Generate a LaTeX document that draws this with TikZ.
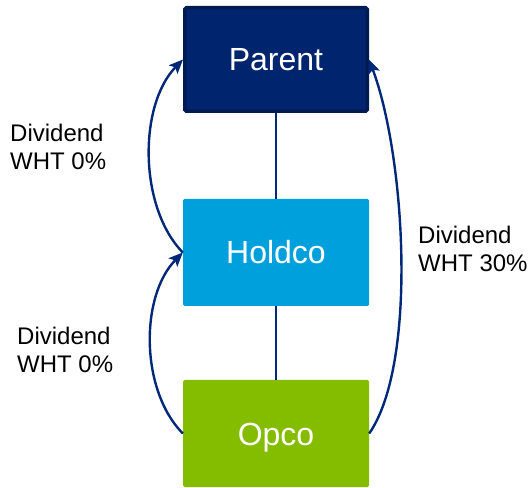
\documentclass[tikz,border=0pt]{standalone}
\usepackage{fontspec}
\setmainfont{Liberation Sans}
\usetikzlibrary{arrows.meta}
\definecolor{navyfill}{HTML}{00246E}
\definecolor{navyedge}{HTML}{001B52}
\definecolor{linkblue}{HTML}{002878}
\definecolor{holdblue}{HTML}{00A0DC}
\definecolor{opgreen}{HTML}{84BC00}
\tikzset{
  entity/.style={rectangle, rounded corners=1.5pt, inner sep=0pt,
    minimum width=186pt, minimum height=107pt, text=white,
    font=\fontsize{32pt}{36pt}\selectfont, text height=23pt, text depth=0pt},
  owner/.style={draw=linkblue, line width=1.4pt},
  flow/.style={draw=linkblue, line width=2.4pt,
    -{Stealth[length=14pt,width=12pt,inset=3pt]}},
  rate/.style={inner sep=0pt, anchor=base west, align=left,
    font=\fontsize{24pt}{28.5pt}\selectfont}
}
\begin{document}
\begin{tikzpicture}[x=1pt,y=1pt]
  \useasboundingbox (0,0) rectangle (532,487);

  % company boxes
  \node[entity, fill=navyfill, draw=navyedge, line width=3.5pt,
        minimum width=182.5pt, minimum height=103.5pt] (parent) at (276,427.5) {Parent};
  \node[entity, fill=holdblue] (holdco) at (276,234.5) {Holdco};
  \node[entity, fill=opgreen] (opco) at (276,53.5) {Opco};

  % ownership chain
  \draw[owner] (parent.south) -- (holdco.north);
  \draw[owner] (holdco.south) -- (opco.north);

  % dividend flows
  \draw[flow] (holdco.west) .. controls (138.5,280) and (138.5,382) .. (parent.west);
  \draw[flow] (opco.west) .. controls (140,97) and (140,191) .. (holdco.west);
  \draw[flow] (opco.east) .. controls (418,124) and (405,332) .. (parent.east);

  % withholding tax labels (anchored on the baseline of the second line)
  \node[rate] (whtA) at (10,317) {Dividend\\WHT 0\%};
  \node[rate] (whtB) at (17,114) {Dividend\\WHT 0\%};
  \node[rate] (whtC) at (418,215) {Dividend\\WHT 30\%};
\end{tikzpicture}
\end{document}
